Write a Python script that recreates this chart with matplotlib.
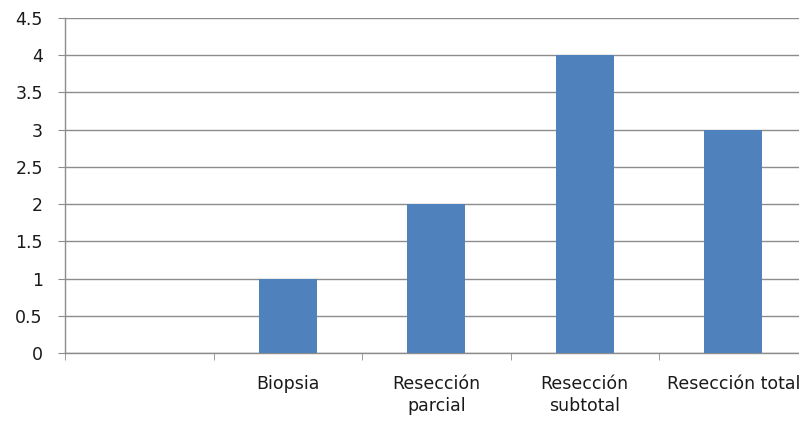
import numpy as np
import matplotlib.pyplot as plt

categorias = ['', 'Biopsia', 'Resección\nparcial', 'Resección\nsubtotal', 'Resección total']
valores = [0, 1, 2, 4, 3]
yticks = [0, 0.5, 1, 1.5, 2, 2.5, 3, 3.5, 4, 4.5]
ylabels = ['0', '0.5', '1', '1.5', '2', '2.5', '3', '3.5', '4', '4.5']

fig = plt.figure(figsize=(7.99, 4.26), dpi=100)
# el eje derecho queda un poco fuera de la imagen, como en el original
ax = fig.add_axes([65 / 799, 73 / 426, 742.5 / 799, 335 / 426])

x = np.arange(len(categorias))
ax.bar(x, valores, width=0.39, color='#4f81bd', zorder=3)

ax.set_xlim(-0.5, len(categorias) - 0.5)
ax.set_ylim(0, 4.5)
ax.set_yticks(yticks)
ax.set_yticklabels(ylabels)
ax.set_xticks(x)
ax.set_xticklabels(categorias, linespacing=1.3)
ax.set_xticks(np.arange(len(categorias) + 1) - 0.5, minor=True)

gris = '#8c8c8c'
ax.yaxis.grid(True, color=gris, linewidth=1, zorder=0)
for s in ['top', 'right']:
    ax.spines[s].set_visible(False)
for s in ['left', 'bottom']:
    ax.spines[s].set_color(gris)
    ax.spines[s].set_linewidth(1)

ax.tick_params(axis='y', length=5, color=gris, labelsize=12.5, labelcolor='#1a1a1a', pad=11)
ax.tick_params(axis='x', which='major', length=0, labelsize=12.5, labelcolor='#1a1a1a', pad=16)
ax.tick_params(axis='x', which='minor', length=5, color=gris)

fig.savefig('out.png', dpi=100)
